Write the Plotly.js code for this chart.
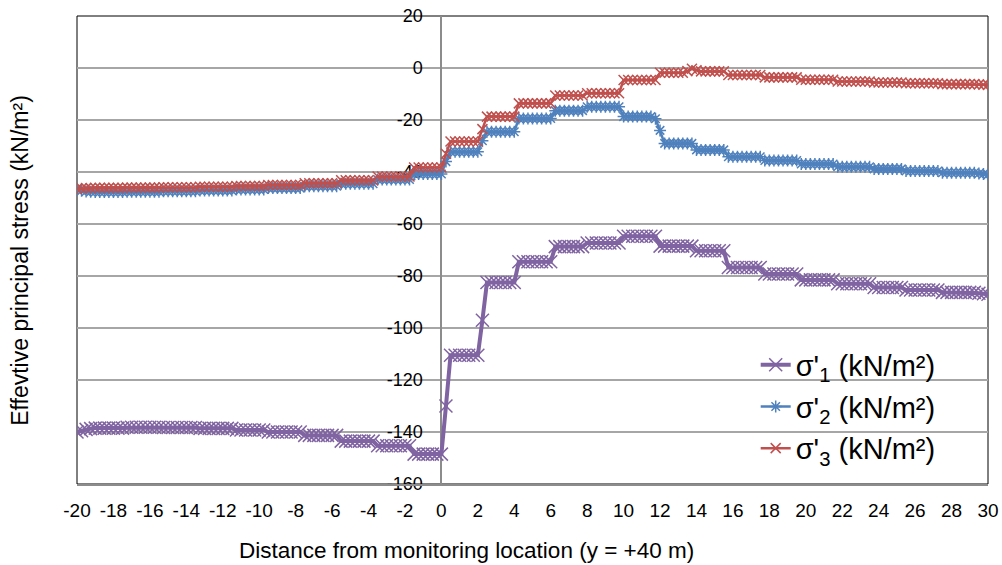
<!DOCTYPE html>
<html>
<head>
<meta charset="utf-8">
<script src="https://cdn.plot.ly/plotly-3.0.1.min.js"></script>
<style>html,body{margin:0;padding:0;background:#fff;}#chart{width:1002px;height:565px;}</style>
</head>
<body>
<div id="chart"></div>
<script>
// Distance from monitoring location (m)
const distance = [
-20,-19.75,-19.5,-19.25,-19,-18.75,-18.5,-18.25,
-18,-17.75,-17.5,-17.25,-17,-16.75,-16.5,-16.25,
-16,-15.75,-15.5,-15.25,-15,-14.75,-14.5,-14.25,
-14,-13.75,-13.5,-13.25,-13,-12.75,-12.5,-12.25,
-12,-11.75,-11.5,-11.25,-11,-10.75,-10.5,-10.25,
-10,-9.75,-9.5,-9.25,-9,-8.75,-8.5,-8.25,
-8,-7.75,-7.5,-7.25,-7,-6.75,-6.5,-6.25,
-6,-5.75,-5.5,-5.25,-5,-4.75,-4.5,-4.25,
-4,-3.75,-3.5,-3.25,-3,-2.75,-2.5,-2.25,
-2,-1.75,-1.5,-1.25,-1,-0.75,-0.5,-0.25,
0,0.25,0.5,0.75,1,1.25,1.5,1.75,
2,2.25,2.5,2.75,3,3.25,3.5,3.75,
4,4.25,4.5,4.75,5,5.25,5.5,5.75,
6,6.25,6.5,6.75,7,7.25,7.5,7.75,
8,8.25,8.5,8.75,9,9.25,9.5,9.75,
10,10.25,10.5,10.75,11,11.25,11.5,11.75,
12,12.25,12.5,12.75,13,13.25,13.5,13.75,
14,14.25,14.5,14.75,15,15.25,15.5,15.75,
16,16.25,16.5,16.75,17,17.25,17.5,17.75,
18,18.25,18.5,18.75,19,19.25,19.5,19.75,
20,20.25,20.5,20.75,21,21.25,21.5,21.75,
22,22.25,22.5,22.75,23,23.25,23.5,23.75,
24,24.25,24.5,24.75,25,25.25,25.5,25.75,
26,26.25,26.5,26.75,27,27.25,27.5,27.75,
28,28.25,28.5,28.75,29,29.25,29.5,29.75,
30];

// sigma'1 (kN/m2)
const sigma1 = [
-140,-139.5,-139,-138.7,-138.5,-138.5,-138.5,-138.5,
-138.5,-138.5,-138.5,-138.2,-138.2,-138.2,-138.2,-138.2,
-138.2,-138.2,-138.2,-138.3,-138.3,-138.3,-138.3,-138.3,
-138.3,-138.3,-138.3,-138.6,-138.6,-138.6,-138.6,-138.6,
-138.6,-138.6,-138.6,-139.2,-139.2,-139.2,-139.2,-139.2,
-139.2,-139.2,-140,-140,-140,-140,-140,-140,
-140,-140,-141.3,-141.3,-141.3,-141.3,-141.3,-141.3,
-141.3,-141.3,-143.5,-143.5,-143.5,-143.5,-143.5,-143.5,
-143.5,-143.5,-145.3,-145.3,-145.3,-145.3,-145.3,-145.3,
-145.3,-145.3,-148.5,-148.5,-148.5,-148.5,-148.5,-148.5,
-148.5,-130,-110.5,-110.5,-110.5,-110.5,-110.5,-110.5,
-110.5,-97,-82.5,-82.5,-82.5,-82.5,-82.5,-82.5,
-82.5,-74.5,-74.5,-74.5,-74.5,-74.5,-74.5,-74.5,
-74.5,-68.7,-68.7,-68.7,-68.7,-68.7,-68.7,-68.7,
-67.3,-67.3,-67.3,-67.3,-67.3,-67.3,-67.3,-67.3,
-64.7,-64.7,-64.7,-64.7,-64.7,-64.7,-64.7,-64.7,
-68.5,-68.5,-68.5,-68.5,-68.5,-68.5,-68.5,-68.5,
-70.3,-70.3,-70.3,-70.3,-70.3,-70.3,-70.3,-76.7,
-76.7,-76.7,-76.7,-76.7,-76.7,-76.7,-76.7,-79.2,
-79.2,-79.2,-79.2,-79.2,-79.2,-79.2,-79.2,-81.5,
-81.5,-81.5,-81.5,-81.5,-81.5,-81.5,-81.5,-83,
-83,-83,-83,-83,-83,-83,-83,-84.4,
-84.4,-84.4,-84.4,-84.4,-84.4,-84.4,-85.4,-85.4,
-85.4,-85.4,-85.4,-85.4,-85.4,-85.4,-86.3,-86.3,
-86.3,-86.3,-86.3,-86.3,-86.3,-86.3,-86.6,-86.8,
-87];

// sigma'2 (kN/m2)
const sigma2 = [
-46.8,-47.2,-47.5,-47.6,-47.7,-47.7,-47.7,-47.7,
-47.7,-47.7,-47.7,-47.6,-47.6,-47.6,-47.6,-47.6,
-47.6,-47.6,-47.6,-47.4,-47.4,-47.4,-47.4,-47.4,
-47.4,-47.4,-47.4,-47.1,-47.1,-47.1,-47.1,-47.1,
-47.1,-47.1,-47.1,-46.7,-46.7,-46.7,-46.7,-46.7,
-46.7,-46.7,-46.2,-46.2,-46.2,-46.2,-46.2,-46.2,
-46.2,-46.2,-45.5,-45.5,-45.5,-45.5,-45.5,-45.5,
-45.5,-45.5,-44.5,-44.5,-44.5,-44.5,-44.5,-44.5,
-44.5,-44.5,-42.9,-42.9,-42.9,-42.9,-42.9,-42.9,
-42.9,-42.9,-40.8,-40.8,-40.8,-40.8,-40.8,-40.8,
-40.8,-36,-32.2,-32.2,-32.2,-32.2,-32.2,-32.2,
-32.2,-28,-24.5,-24.5,-24.5,-24.5,-24.5,-24.5,
-24.5,-19.4,-19.4,-19.4,-19.4,-19.4,-19.4,-19.4,
-19.4,-16.4,-16.4,-16.4,-16.4,-16.4,-16.4,-16.4,
-14.9,-14.9,-14.9,-14.9,-14.9,-14.9,-14.9,-14.9,
-18.7,-18.7,-18.7,-18.7,-18.7,-18.7,-18.7,-19.5,
-24,-29,-29,-29,-29,-29,-29,-29,
-31.5,-31.5,-31.5,-31.5,-31.5,-31.5,-31.5,-34.1,
-34.1,-34.1,-34.1,-34.1,-34.1,-34.1,-34.1,-35.6,
-35.6,-35.6,-35.6,-35.6,-35.6,-35.6,-35.6,-36.9,
-36.9,-36.9,-36.9,-36.9,-36.9,-36.9,-36.9,-38,
-38,-38,-38,-38,-38,-38,-38,-38.8,
-38.8,-38.8,-38.8,-38.8,-38.8,-38.8,-39.6,-39.6,
-39.6,-39.6,-39.6,-39.6,-39.6,-39.6,-40.3,-40.3,
-40.3,-40.3,-40.3,-40.3,-40.3,-40.3,-40.6,-40.8,
-41];

// sigma'3 (kN/m2)
const sigma3 = [
-46.4,-46.3,-46.2,-46.2,-46.1,-46.1,-46.1,-46.1,
-46.1,-46.1,-46.1,-46,-46,-46,-46,-46,
-46,-46,-46,-45.9,-45.9,-45.9,-45.9,-45.9,
-45.9,-45.9,-45.9,-45.7,-45.7,-45.7,-45.7,-45.7,
-45.7,-45.7,-45.7,-45.4,-45.4,-45.4,-45.4,-45.4,
-45.4,-45.4,-45,-45,-45,-45,-45,-45,
-45,-45,-44.3,-44.3,-44.3,-44.3,-44.3,-44.3,
-44.3,-44.3,-43.2,-43.2,-43.2,-43.2,-43.2,-43.2,
-43.2,-43.2,-41.7,-41.7,-41.7,-41.7,-41.7,-41.7,
-41.7,-41.7,-38.3,-38.3,-38.3,-38.3,-38.3,-38.3,
-38.3,-33,-28.3,-28.3,-28.3,-28.3,-28.3,-28.3,
-28.3,-23.5,-18.7,-18.7,-18.7,-18.7,-18.7,-18.7,
-18.7,-13.6,-13.6,-13.6,-13.6,-13.6,-13.6,-13.6,
-13.6,-10.6,-10.6,-10.6,-10.6,-10.6,-10.6,-10.6,
-9.7,-9.7,-9.7,-9.7,-9.7,-9.7,-9.7,-9.7,
-4.6,-4.6,-4.6,-4.6,-4.6,-4.6,-4.6,-4.6,
-1.8,-1.8,-1.8,-1.8,-1.8,-1.8,-1.2,-0.3,
-0.9,-1.3,-1.3,-1.3,-1.3,-1.3,-1.3,-2.7,
-2.7,-2.7,-2.7,-2.7,-2.7,-2.7,-2.7,-3.6,
-3.6,-3.6,-3.6,-3.6,-3.6,-3.6,-3.6,-4.5,
-4.5,-4.5,-4.5,-4.5,-4.5,-4.5,-4.5,-5.2,
-5.2,-5.2,-5.2,-5.2,-5.2,-5.2,-5.2,-5.6,
-5.6,-5.6,-5.6,-5.6,-5.6,-5.6,-5.9,-5.9,
-5.9,-5.9,-5.9,-5.9,-5.9,-5.9,-6.2,-6.2,
-6.2,-6.2,-6.2,-6.2,-6.2,-6.2,-6.3,-6.4,
-6.5];

const seriesNames = ["σ'<sub>1</sub> (kN/m²)", "σ'<sub>2</sub> (kN/m²)", "σ'<sub>3</sub> (kN/m²)"];
const xTickVals = [-20,-18,-16,-14,-12,-10,-8,-6,-4,-2,0,2,4,6,8,10,12,14,16,18,20,22,24,26,28,30];
const xTickText = ["-20","-18","-16","-14","-12","-10","-8","-6","-4","-2","0","2","4","6","8","10","12","14","16","18","20","22","24","26","28","30"];
const yTickVals = [20,0,-20,-40,-60,-80,-100,-120,-140,-160];
const yTickText = ["20","0","-20","-40","-60","-80","-100","-120","-140","-160"];
const xTitle = "Distance from monitoring location (y = +40 m)";
const yTitle = "Effevtive principal stress (kN/m²)";

const PURPLE = '#8064A2', BLUE = '#4F81BD', RED = '#C0504D';
const FONT = 'Liberation Sans, Arial, sans-serif';

const traces = [
  {x: distance, y: sigma1, name: seriesNames[0], legendgroup: 'a', type: 'scatter', mode: 'lines+markers',
   line: {color: PURPLE, width: 4},
   marker: {symbol: 'x-thin-open', size: 13, color: PURPLE, line: {color: PURPLE, width: 1.5}}},
  {x: distance, y: sigma2, name: seriesNames[1], legendgroup: 'b', type: 'scatter', mode: 'lines+markers',
   line: {color: BLUE, width: 2.5},
   marker: {symbol: 'asterisk-open', size: 10, color: BLUE, line: {color: BLUE, width: 1.5}}},
  {x: distance, y: sigma3, name: seriesNames[2], legendgroup: 'c', type: 'scatter', mode: 'lines+markers',
   line: {color: RED, width: 2.5},
   marker: {symbol: 'x-thin-open', size: 10, color: RED, line: {color: RED, width: 1.5}}}
];

const layout = {
  width: 1002, height: 565,
  margin: {l: 77, r: 14, t: 16, b: 81, pad: 0},
  paper_bgcolor: '#ffffff', plot_bgcolor: '#ffffff',
  font: {family: FONT, color: '#000000'},
  showlegend: true,
  legend: {x: 0.745, y: 0.309, xanchor: 'left', yanchor: 'top', bgcolor: 'rgba(0,0,0,0)',
           borderwidth: 0, tracegroupgap: 1, font: {family: FONT, size: 29, color: '#000'}},
  xaxis: {range: [-20, 30], tickmode: 'array', tickvals: xTickVals, ticktext: xTickText,
          showgrid: false, zeroline: false, showline: true, linecolor: '#8c8c8c', linewidth: 2,
          ticks: '', ticklabelstandoff: 8,
          tickfont: {family: FONT, size: 19, color: '#000'}},
  yaxis: {range: [-160, 20], tickmode: 'array', tickvals: yTickVals, ticktext: yTickText,
          anchor: 'free', position: 0.4, side: 'left',
          showgrid: true, gridcolor: '#a6a6a6', gridwidth: 1.5, zeroline: false,
          showline: true, linecolor: '#8c8c8c', linewidth: 2, ticks: '', ticklabelstandoff: 14,
          layer: 'below traces',
          tickfont: {family: FONT, size: 18, color: '#000'}},
  shapes: [
    {type: 'rect', xref: 'paper', yref: 'paper', x0: 0, x1: 1, y0: 0, y1: 1,
     line: {color: '#000000', width: 1}, layer: 'between'}
  ],
  annotations: [
    {text: xTitle, xref: 'paper', yref: 'paper', x: 0.428, y: -0.142, xanchor: 'center', yanchor: 'middle',
     showarrow: false, font: {family: FONT, size: 22.5, color: '#000'}},
    {text: yTitle, xref: 'paper', yref: 'paper', x: -0.0626, y: 0.479, xanchor: 'center', yanchor: 'middle',
     textangle: -90, showarrow: false, font: {family: FONT, size: 23, color: '#000'}}
  ]
};

Plotly.newPlot('chart', traces, layout, {staticPlot: true, displayModeBar: false});
</script>
</body>
</html>
